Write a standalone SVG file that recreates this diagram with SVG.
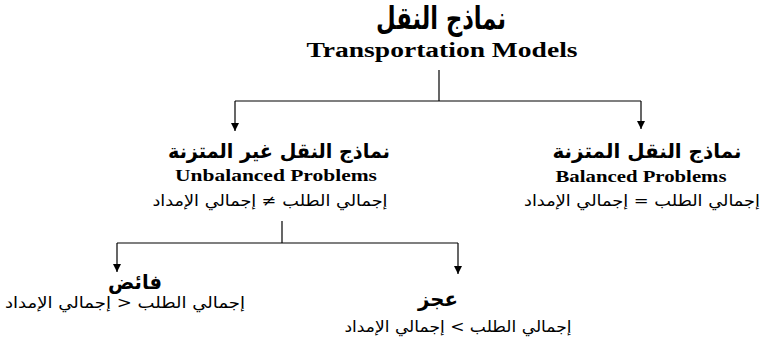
<svg xmlns="http://www.w3.org/2000/svg" width="761" height="341" viewBox="0 0 761 341">
  <style>
    .ar-title { font-family: "DejaVu Sans", sans-serif; font-weight: bold; font-size: 31px; fill: #000; }
    .ar-head { font-family: "DejaVu Sans", sans-serif; font-weight: bold; font-size: 20px; fill: #000; }
    .en { font-family: "Liberation Serif", "Times New Roman", serif; font-weight: bold; fill: #000; }
    .ar-rel { font-family: "DejaVu Sans", sans-serif; font-size: 15.5px; fill: #000; direction: rtl; }
    .wire { fill: none; stroke: #000; stroke-width: 1.2; }
  </style>
  <defs>
    <marker id="tip" viewBox="0 0 8 8" refX="8" refY="4" markerWidth="8" markerHeight="8" markerUnits="userSpaceOnUse" orient="auto">
      <path d="M0,0 L8,4 L0,8 Z" fill="#000"/>
    </marker>
  </defs>
  <rect width="761" height="341" fill="#fff"/>

  <!-- root -->
  <g id="root">
    <text class="ar-title" x="441" y="29" text-anchor="middle" textLength="130" lengthAdjust="spacingAndGlyphs">نماذج النقل</text>
    <text class="en" x="442" y="57" font-size="20" text-anchor="middle" textLength="271" lengthAdjust="spacingAndGlyphs">Transportation Models</text>
  </g>

  <!-- unbalanced branch -->
  <g id="unbalanced">
    <text class="ar-head" x="279" y="158" text-anchor="middle" textLength="222" lengthAdjust="spacingAndGlyphs">نماذج النقل غير المتزنة</text>
    <text class="en" x="276" y="181" font-size="17" text-anchor="middle" textLength="202" lengthAdjust="spacingAndGlyphs">Unbalanced Problems</text>
    <text class="ar-rel" x="270" y="206" text-anchor="middle" textLength="235" lengthAdjust="spacingAndGlyphs">إجمالي الطلب ≠  إجمالي الإمداد</text>
  </g>

  <!-- balanced branch -->
  <g id="balanced">
    <text class="ar-head" x="647" y="158" text-anchor="middle" textLength="189" lengthAdjust="spacingAndGlyphs">نماذج النقل المتزنة</text>
    <text class="en" x="641" y="182" font-size="17" text-anchor="middle" textLength="171" lengthAdjust="spacingAndGlyphs">Balanced Problems</text>
    <text class="ar-rel" x="642" y="206" text-anchor="middle" textLength="236" lengthAdjust="spacingAndGlyphs">إجمالي الطلب = إجمالي الإمداد</text>
  </g>

  <!-- surplus -->
  <g id="surplus">
    <text class="ar-head" x="135" y="289" text-anchor="middle" textLength="54" lengthAdjust="spacingAndGlyphs">فائض</text>
    <text class="ar-rel" x="125" y="308" text-anchor="middle" textLength="240" lengthAdjust="spacingAndGlyphs">إجمالي الطلب &lt;  إجمالي الإمداد</text>
  </g>

  <!-- shortage -->
  <g id="shortage">
    <text class="ar-head" x="438" y="306" text-anchor="middle" textLength="40" lengthAdjust="spacingAndGlyphs">عجز</text>
    <text class="ar-rel" x="458" y="332" text-anchor="middle" textLength="227" lengthAdjust="spacingAndGlyphs">إجمالي الطلب &gt;  إجمالي الإمداد</text>
  </g>

  <!-- connectors -->
  <g id="connectors">
    <path class="wire" d="M439,70 V101"/>
    <path class="wire" d="M235,101 H641"/>
    <path class="wire" d="M235,101 V131" marker-end="url(#tip)"/>
    <path class="wire" d="M641,101 V129" marker-end="url(#tip)"/>
    <path class="wire" d="M282,221 V243"/>
    <path class="wire" d="M117,243 H458"/>
    <path class="wire" d="M117,243 V272" marker-end="url(#tip)"/>
    <path class="wire" d="M458,243 V274" marker-end="url(#tip)"/>
  </g>
</svg>
